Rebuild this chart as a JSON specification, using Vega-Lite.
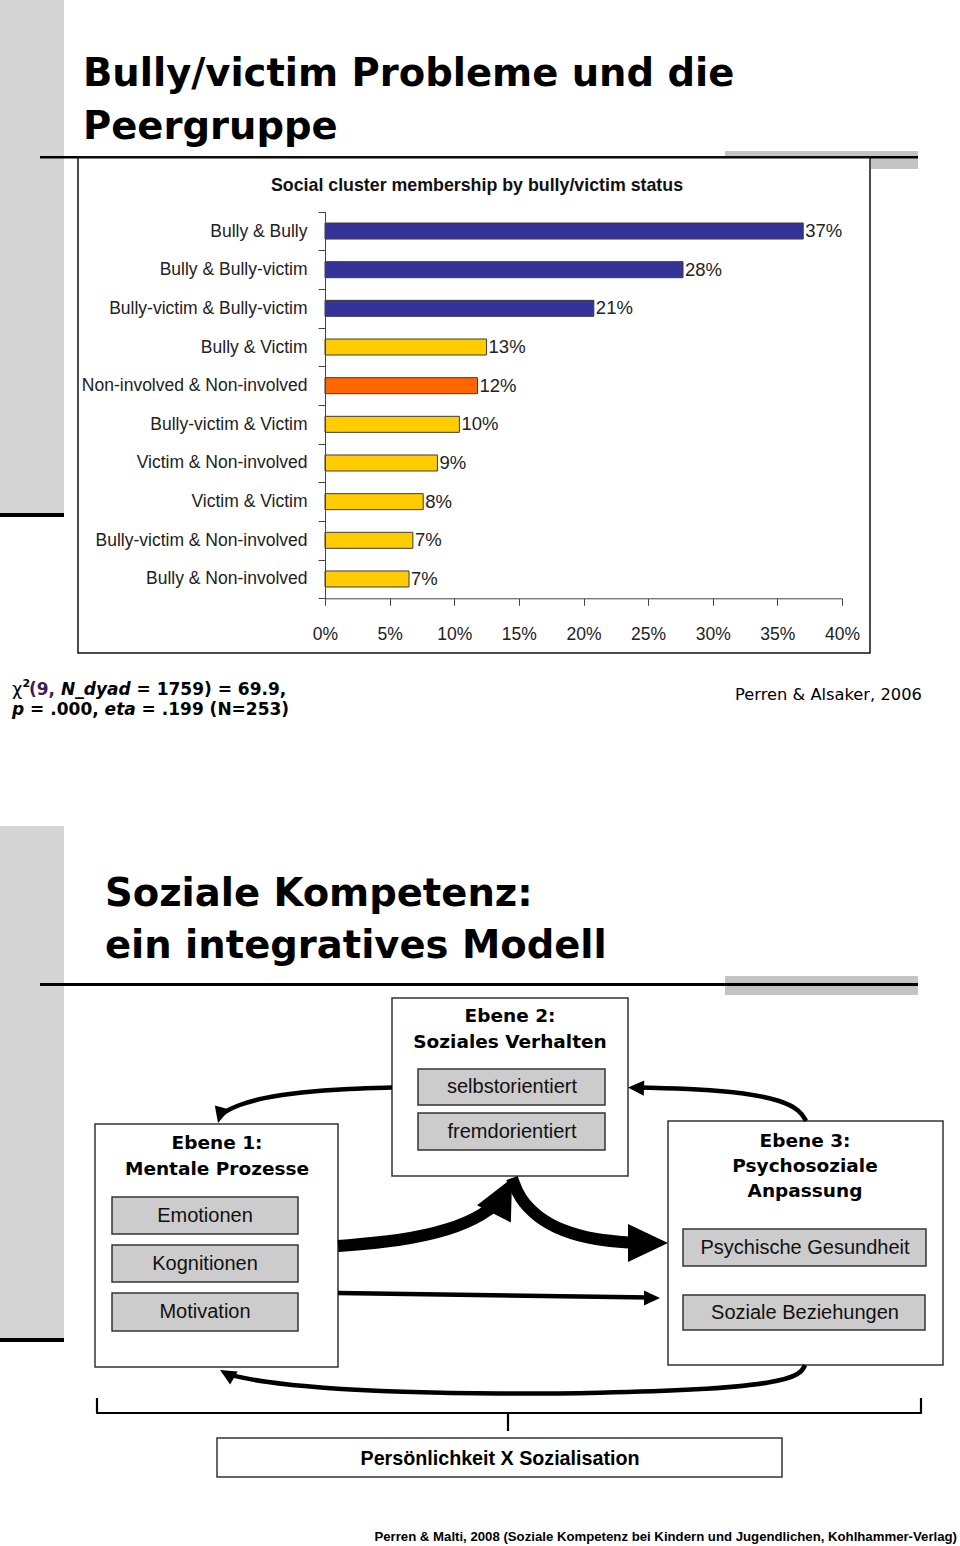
{
  "$schema": "https://vega.github.io/schema/vega-lite/v6.json",
  "width": 960,
  "height": 1546,
  "padding": 0,
  "autosize": {"type": "none"},
  "background": "#ffffff",
  "config": {"view": {"stroke": null}},
  "datasets": {
    "bars": [
      {"pair": "Bully & Bully", "share": 0.370, "label": "37%", "cluster": "bully"},
      {"pair": "Bully & Bully-victim", "share": 0.277, "label": "28%", "cluster": "bully"},
      {"pair": "Bully-victim & Bully-victim", "share": 0.208, "label": "21%", "cluster": "bully"},
      {"pair": "Bully & Victim", "share": 0.125, "label": "13%", "cluster": "mixed"},
      {"pair": "Non-involved & Non-involved", "share": 0.118, "label": "12%", "cluster": "none"},
      {"pair": "Bully-victim & Victim", "share": 0.104, "label": "10%", "cluster": "mixed"},
      {"pair": "Victim & Non-involved", "share": 0.087, "label": "9%", "cluster": "mixed"},
      {"pair": "Victim & Victim", "share": 0.076, "label": "8%", "cluster": "mixed"},
      {"pair": "Bully-victim & Non-involved", "share": 0.068, "label": "7%", "cluster": "mixed"},
      {"pair": "Bully & Non-involved", "share": 0.065, "label": "7%", "cluster": "mixed"}
    ],
    "rects": [
      {"kind": "sideband", "x": 0, "x2": 64, "y": 0, "y2": 515},
      {"kind": "sideband", "x": 0, "x2": 64, "y": 826, "y2": 1340},
      {"kind": "accent", "x": 725, "x2": 918, "y": 151, "y2": 157},
      {"kind": "accent", "x": 871, "x2": 918, "y": 157, "y2": 169},
      {"kind": "accent", "x": 725, "x2": 918, "y": 976, "y2": 995},
      {"kind": "ink", "x": 0, "x2": 64, "y": 513, "y2": 517},
      {"kind": "ink", "x": 40, "x2": 918, "y": 156, "y2": 158.5},
      {"kind": "ink", "x": 40, "x2": 918, "y": 983, "y2": 986},
      {"kind": "ink", "x": 0, "x2": 64, "y": 1338, "y2": 1342},
      {"kind": "frame", "x": 78, "x2": 870, "y": 157, "y2": 653},
      {"kind": "box", "x": 392, "x2": 628, "y": 998, "y2": 1176},
      {"kind": "box", "x": 95, "x2": 338, "y": 1124, "y2": 1367},
      {"kind": "box", "x": 668, "x2": 943, "y": 1121, "y2": 1365},
      {"kind": "box", "x": 217, "x2": 782, "y": 1438, "y2": 1477},
      {"kind": "subbox", "x": 418, "x2": 605, "y": 1069, "y2": 1105},
      {"kind": "subbox", "x": 418, "x2": 605, "y": 1113, "y2": 1150},
      {"kind": "subbox", "x": 112, "x2": 298, "y": 1197, "y2": 1234},
      {"kind": "subbox", "x": 112, "x2": 298, "y": 1245, "y2": 1282},
      {"kind": "subbox", "x": 112, "x2": 298, "y": 1293, "y2": 1331},
      {"kind": "subbox", "x": 683, "x2": 926, "y": 1229, "y2": 1266},
      {"kind": "subbox", "x": 683, "x2": 925, "y": 1295, "y2": 1330}
    ],
    "paths": [
      {"kind": "thin", "id": "a1", "i": 0, "x": 392, "y": 1087.5},
      {"kind": "thin", "id": "a1", "i": 1, "x": 350, "y": 1088.5},
      {"kind": "thin", "id": "a1", "i": 2, "x": 300, "y": 1092},
      {"kind": "thin", "id": "a1", "i": 3, "x": 262, "y": 1098},
      {"kind": "thin", "id": "a1", "i": 4, "x": 238, "y": 1105},
      {"kind": "thin", "id": "a1", "i": 5, "x": 224, "y": 1112},
      {"kind": "thin", "id": "a1", "i": 6, "x": 220, "y": 1116},
      {"kind": "thin", "id": "a2", "i": 0, "x": 806, "y": 1121},
      {"kind": "thin", "id": "a2", "i": 1, "x": 800, "y": 1110},
      {"kind": "thin", "id": "a2", "i": 2, "x": 780, "y": 1100},
      {"kind": "thin", "id": "a2", "i": 3, "x": 745, "y": 1093},
      {"kind": "thin", "id": "a2", "i": 4, "x": 700, "y": 1089},
      {"kind": "thin", "id": "a2", "i": 5, "x": 640, "y": 1087.5},
      {"kind": "thin", "id": "a5", "i": 0, "x": 338, "y": 1293},
      {"kind": "thin", "id": "a5", "i": 1, "x": 650, "y": 1297.5},
      {"kind": "thin", "id": "a6", "i": 0, "x": 805, "y": 1365},
      {"kind": "thin", "id": "a6", "i": 1, "x": 801, "y": 1374},
      {"kind": "thin", "id": "a6", "i": 2, "x": 775, "y": 1383},
      {"kind": "thin", "id": "a6", "i": 3, "x": 700, "y": 1390},
      {"kind": "thin", "id": "a6", "i": 4, "x": 600, "y": 1393},
      {"kind": "thin", "id": "a6", "i": 5, "x": 500, "y": 1394},
      {"kind": "thin", "id": "a6", "i": 6, "x": 400, "y": 1392},
      {"kind": "thin", "id": "a6", "i": 7, "x": 320, "y": 1388},
      {"kind": "thin", "id": "a6", "i": 8, "x": 262, "y": 1382},
      {"kind": "thin", "id": "a6", "i": 9, "x": 230, "y": 1375},
      {"kind": "thick", "id": "a3", "i": 0, "x": 338, "y": 1246},
      {"kind": "thick", "id": "a3", "i": 1, "x": 400, "y": 1241},
      {"kind": "thick", "id": "a3", "i": 2, "x": 450, "y": 1230},
      {"kind": "thick", "id": "a3", "i": 3, "x": 483, "y": 1215},
      {"kind": "thick", "id": "a3", "i": 4, "x": 503, "y": 1199},
      {"kind": "thick", "id": "a4", "i": 0, "x": 512, "y": 1178},
      {"kind": "thick", "id": "a4", "i": 1, "x": 519, "y": 1198},
      {"kind": "thick", "id": "a4", "i": 2, "x": 537, "y": 1217},
      {"kind": "thick", "id": "a4", "i": 3, "x": 562, "y": 1231},
      {"kind": "thick", "id": "a4", "i": 4, "x": 595, "y": 1240},
      {"kind": "thick", "id": "a4", "i": 5, "x": 635, "y": 1243},
      {"kind": "brace", "id": "b1", "i": 0, "x": 97, "y": 1398},
      {"kind": "brace", "id": "b1", "i": 1, "x": 97, "y": 1413},
      {"kind": "brace", "id": "b1", "i": 2, "x": 921, "y": 1413},
      {"kind": "brace", "id": "b1", "i": 3, "x": 921, "y": 1398},
      {"kind": "brace", "id": "b2", "i": 0, "x": 508, "y": 1413},
      {"kind": "brace", "id": "b2", "i": 1, "x": 508, "y": 1431}
    ],
    "heads": [
      {"kind": "big", "x": 503, "y": 1196, "ang": 27},
      {"kind": "big", "x": 648, "y": 1243, "ang": 90},
      {"kind": "small", "x": 220.1, "y": 1115.3, "ang": 195},
      {"kind": "small", "x": 636, "y": 1087.8, "ang": 272},
      {"kind": "small", "x": 652, "y": 1298, "ang": 90},
      {"kind": "small", "x": 227, "y": 1374, "ang": 300}
    ],
    "texts": [
      {"kind": "slideTitle", "x": 83, "y": 86, "text": "Bully/victim Probleme und die"},
      {"kind": "slideTitle", "x": 83, "y": 139, "text": "Peergruppe"},
      {"kind": "slideTitle", "x": 105, "y": 906, "text": "Soziale Kompetenz:"},
      {"kind": "slideTitle", "x": 105, "y": 958, "text": "ein integratives Modell"},
      {"kind": "chartTitle", "x": 477, "y": 186, "text": "Social cluster membership by bully/victim status"},
      {"kind": "statChi", "x": 12, "y": 695, "text": "χ"},
      {"kind": "statSup", "x": 22.5, "y": 687, "text": "2"},
      {"kind": "statPurple", "x": 29, "y": 695, "text": "(9,"},
      {"kind": "statItalic", "x": 61, "y": 695, "text": "N_dyad"},
      {"kind": "statBold", "x": 136.5, "y": 695, "text": "= 1759) = 69.9,"},
      {"kind": "statItalic", "x": 12, "y": 715, "text": "p"},
      {"kind": "statBold", "x": 30.1, "y": 715, "text": "= .000,"},
      {"kind": "statItalic", "x": 104.6, "y": 715, "text": "eta"},
      {"kind": "statBold", "x": 141.6, "y": 715, "text": "= .199 (N=253)"},
      {"kind": "cite", "x": 735, "y": 700, "text": "Perren & Alsaker, 2006"},
      {"kind": "boxHead", "x": 510, "y": 1016, "text": "Ebene 2:"},
      {"kind": "boxHead", "x": 510, "y": 1042, "text": "Soziales Verhalten"},
      {"kind": "boxHead", "x": 217, "y": 1143, "text": "Ebene 1:"},
      {"kind": "boxHead", "x": 217, "y": 1169, "text": "Mentale Prozesse"},
      {"kind": "boxHead", "x": 805, "y": 1141, "text": "Ebene 3:"},
      {"kind": "boxHead", "x": 805, "y": 1166, "text": "Psychosoziale"},
      {"kind": "boxHead", "x": 805, "y": 1191, "text": "Anpassung"},
      {"kind": "boxItem", "x": 512, "y": 1087, "text": "selbstorientiert"},
      {"kind": "boxItem", "x": 512, "y": 1132, "text": "fremdorientiert"},
      {"kind": "boxItem", "x": 205, "y": 1216, "text": "Emotionen"},
      {"kind": "boxItem", "x": 205, "y": 1264, "text": "Kognitionen"},
      {"kind": "boxItem", "x": 205, "y": 1312, "text": "Motivation"},
      {"kind": "boxItem", "x": 805, "y": 1248, "text": "Psychische Gesundheit"},
      {"kind": "boxItem", "x": 805, "y": 1313, "text": "Soziale Beziehungen"},
      {"kind": "bottomBox", "x": 500, "y": 1459, "text": "Persönlichkeit X Sozialisation"},
      {"kind": "footer", "x": 957, "y": 1537, "text": "Perren & Malti, 2008 (Soziale Kompetenz bei Kindern und Jugendlichen, Kohlhammer-Verlag)"}
    ]
  },
  "layer": [
    {
      "encoding": {
        "x": {"field": "x", "type": "quantitative", "scale": {"domain": [0, 960], "range": [0, 960], "nice": false, "zero": false}, "axis": null},
        "y": {"field": "y", "type": "quantitative", "scale": {"domain": [0, 1546], "range": [0, 1546], "nice": false, "zero": false}, "axis": null}
      },
      "layer": [
        {"data": {"name": "rects"}, "transform": [{"filter": "datum.kind === 'sideband'"}], "mark": {"type": "rect", "fill": "#d4d4d4"}, "encoding": {"x2": {"field": "x2"}, "y2": {"field": "y2"}}},
        {"data": {"name": "rects"}, "transform": [{"filter": "datum.kind === 'accent'"}], "mark": {"type": "rect", "fill": "#c4c4c4"}, "encoding": {"x2": {"field": "x2"}, "y2": {"field": "y2"}}},
        {"data": {"name": "rects"}, "transform": [{"filter": "datum.kind === 'ink'"}], "mark": {"type": "rect", "fill": "#000000"}, "encoding": {"x2": {"field": "x2"}, "y2": {"field": "y2"}}},
        {"data": {"name": "rects"}, "transform": [{"filter": "datum.kind === 'frame'"}], "mark": {"type": "rect", "fill": "transparent", "stroke": "#111111", "strokeWidth": 1.5}, "encoding": {"x2": {"field": "x2"}, "y2": {"field": "y2"}}},
        {"data": {"name": "rects"}, "transform": [{"filter": "datum.kind === 'box'"}], "mark": {"type": "rect", "fill": "#ffffff", "stroke": "#333333", "strokeWidth": 1.5}, "encoding": {"x2": {"field": "x2"}, "y2": {"field": "y2"}}},
        {"data": {"name": "rects"}, "transform": [{"filter": "datum.kind === 'subbox'"}], "mark": {"type": "rect", "fill": "#cccccc", "stroke": "#333333", "strokeWidth": 1.5}, "encoding": {"x2": {"field": "x2"}, "y2": {"field": "y2"}}},
        {"data": {"name": "paths"}, "transform": [{"filter": "datum.kind === 'thin'"}], "mark": {"type": "line", "color": "#000000", "strokeWidth": 4.5, "interpolate": "basis", "strokeCap": "butt"}, "encoding": {"detail": {"field": "id"}, "order": {"field": "i", "type": "quantitative"}}},
        {"data": {"name": "paths"}, "transform": [{"filter": "datum.kind === 'thick'"}], "mark": {"type": "line", "color": "#000000", "strokeWidth": 12, "interpolate": "basis", "strokeCap": "butt"}, "encoding": {"detail": {"field": "id"}, "order": {"field": "i", "type": "quantitative"}}},
        {"data": {"name": "paths"}, "transform": [{"filter": "datum.kind === 'brace'"}], "mark": {"type": "line", "color": "#000000", "strokeWidth": 2.2, "interpolate": "linear", "strokeJoin": "round"}, "encoding": {"detail": {"field": "id"}, "order": {"field": "i", "type": "quantitative"}}},
        {"data": {"name": "heads"}, "transform": [{"filter": "datum.kind === 'big'"}], "mark": {"type": "point", "shape": "M0,-1L0.95,1L-0.95,1Z", "filled": true, "fill": "#000000", "opacity": 1, "strokeWidth": 0, "size": 1600}, "encoding": {"angle": {"field": "ang", "type": "quantitative", "scale": {"domain": [0, 360], "range": [0, 360]}}}},
        {"data": {"name": "heads"}, "transform": [{"filter": "datum.kind === 'small'"}], "mark": {"type": "point", "shape": "M0,-1L0.95,1L-0.95,1Z", "filled": true, "fill": "#000000", "opacity": 1, "strokeWidth": 0, "size": 256}, "encoding": {"angle": {"field": "ang", "type": "quantitative", "scale": {"domain": [0, 360], "range": [0, 360]}}}},
        {"data": {"name": "texts"}, "transform": [{"filter": "datum.kind === 'slideTitle'"}], "mark": {"type": "text", "font": "DejaVu Sans", "fontWeight": "bold", "fontSize": 38.5, "align": "left", "baseline": "alphabetic", "color": "#000000"}, "encoding": {"text": {"field": "text"}}},
        {"data": {"name": "texts"}, "transform": [{"filter": "datum.kind === 'chartTitle'"}], "mark": {"type": "text", "font": "Liberation Sans", "fontWeight": "bold", "fontSize": 17.8, "align": "center", "baseline": "middle", "color": "#111111"}, "encoding": {"text": {"field": "text"}}},
        {"data": {"name": "texts"}, "transform": [{"filter": "datum.kind === 'statChi'"}], "mark": {"type": "text", "font": "DejaVu Sans", "fontSize": 18, "align": "left", "baseline": "alphabetic", "color": "#000000"}, "encoding": {"text": {"field": "text"}}},
        {"data": {"name": "texts"}, "transform": [{"filter": "datum.kind === 'statSup'"}], "mark": {"type": "text", "font": "DejaVu Sans", "fontWeight": "bold", "fontSize": 11, "align": "left", "baseline": "alphabetic", "color": "#000000"}, "encoding": {"text": {"field": "text"}}},
        {"data": {"name": "texts"}, "transform": [{"filter": "datum.kind === 'statPurple'"}], "mark": {"type": "text", "font": "DejaVu Sans", "fontWeight": "bold", "fontSize": 17, "align": "left", "baseline": "alphabetic", "color": "#3b1f4e"}, "encoding": {"text": {"field": "text"}}},
        {"data": {"name": "texts"}, "transform": [{"filter": "datum.kind === 'statItalic'"}], "mark": {"type": "text", "font": "DejaVu Sans", "fontWeight": "bold", "fontStyle": "italic", "fontSize": 17, "align": "left", "baseline": "alphabetic", "color": "#000000"}, "encoding": {"text": {"field": "text"}}},
        {"data": {"name": "texts"}, "transform": [{"filter": "datum.kind === 'statBold'"}], "mark": {"type": "text", "font": "DejaVu Sans", "fontWeight": "bold", "fontSize": 17, "align": "left", "baseline": "alphabetic", "color": "#000000"}, "encoding": {"text": {"field": "text"}}},
        {"data": {"name": "texts"}, "transform": [{"filter": "datum.kind === 'cite'"}], "mark": {"type": "text", "font": "DejaVu Sans", "fontSize": 16.3, "align": "left", "baseline": "alphabetic", "color": "#000000"}, "encoding": {"text": {"field": "text"}}},
        {"data": {"name": "texts"}, "transform": [{"filter": "datum.kind === 'boxHead'"}], "mark": {"type": "text", "font": "DejaVu Sans", "fontWeight": "bold", "fontSize": 18.5, "align": "center", "baseline": "middle", "color": "#000000"}, "encoding": {"text": {"field": "text"}}},
        {"data": {"name": "texts"}, "transform": [{"filter": "datum.kind === 'boxItem'"}], "mark": {"type": "text", "font": "Liberation Sans", "fontSize": 20, "align": "center", "baseline": "middle", "color": "#111111"}, "encoding": {"text": {"field": "text"}}},
        {"data": {"name": "texts"}, "transform": [{"filter": "datum.kind === 'bottomBox'"}], "mark": {"type": "text", "font": "Liberation Sans", "fontWeight": "bold", "fontSize": 19.7, "align": "center", "baseline": "middle", "color": "#000000"}, "encoding": {"text": {"field": "text"}}},
        {"data": {"name": "texts"}, "transform": [{"filter": "datum.kind === 'footer'"}], "mark": {"type": "text", "font": "Liberation Sans", "fontWeight": "bold", "fontSize": 13.2, "align": "right", "baseline": "middle", "color": "#000000"}, "encoding": {"text": {"field": "text"}}}
      ]
    },
    {
      "data": {"name": "bars"},
      "encoding": {
        "y": {
          "field": "pair", "type": "nominal", "sort": null,
          "scale": {"range": [211.7, 598.3], "paddingInner": 0, "paddingOuter": 0},
          "axis": {"orient": "left", "offset": -325, "title": null, "tickBand": "extent", "tickSize": 7, "tickColor": "#444444", "domainColor": "#444444", "labelFont": "Liberation Sans", "labelFontSize": 17.5, "labelColor": "#222222", "labelPadding": 11, "labelLimit": 400, "zindex": 1}
        },
        "x": {
          "field": "share", "type": "quantitative",
          "scale": {"domain": [0, 0.4], "range": [325, 842], "nice": false, "zero": true},
          "axis": {"orient": "bottom", "offset": -947.7, "title": null, "grid": false, "values": [0, 0.05, 0.1, 0.15, 0.2, 0.25, 0.3, 0.35, 0.4], "format": ".0%", "tickSize": 7, "tickColor": "#444444", "domainColor": "#444444", "labelFont": "Liberation Sans", "labelFontSize": 17.5, "labelColor": "#222222", "labelPadding": 20, "labelFlush": false, "labelOverlap": false, "zindex": 1}
        }
      },
      "layer": [
        {"mark": {"type": "bar", "height": {"band": 0.414}, "stroke": "#3c3c3c", "strokeWidth": 1}, "encoding": {"color": {"field": "cluster", "type": "nominal", "scale": {"domain": ["bully", "mixed", "none"], "range": ["#333399", "#FFCC00", "#FF6600"]}, "legend": null}}},
        {"mark": {"type": "text", "align": "left", "baseline": "middle", "dx": 2, "font": "Liberation Sans", "fontSize": 18.5, "color": "#222222"}, "encoding": {"text": {"field": "label"}}}
      ]
    }
  ],
  "resolve": {"scale": {"x": "independent", "y": "independent"}, "axis": {"x": "independent", "y": "independent"}}
}
